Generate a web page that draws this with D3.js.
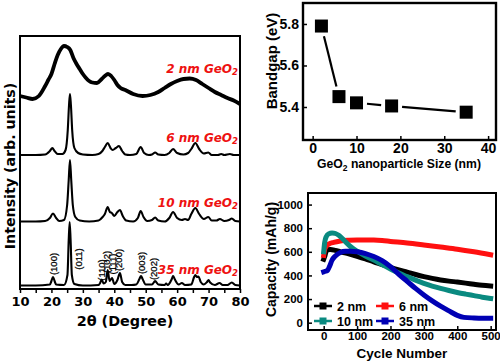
<!DOCTYPE html>
<html><head><meta charset="utf-8">
<script src="https://cdn.jsdelivr.net/npm/d3@7"></script>
<style>body{margin:0;background:#fff} svg{display:block}</style>
</head><body>
<svg id="c" width="500" height="362"></svg>
<script>
// ---------- DATA ----------
// Panel A: XRD patterns (2theta, intensity arb. units incl. offset)
const xrdTickValues = [10,15,20,25,30,35,40,45,50,55,60,65,70,75,80];
const xrd2nm = [[10,193],[12,191.5],[14,190],[16,193],[18,203],[19,209],[20,215],[21,225],[22,234],[23,240],[24,243],[25,242],[26,239],[27,231],[28,225],[29,220],[30,215],[31,211],[32,208],[33,206.5],[34.5,206],[36,210],[37,213],[38,215],[39,213],[40,209],[41,204],[42,201],[43.5,199],[46,195],[49,193],[51.5,194],[54,197],[56,201],[58,205],[60,208],[62,210],[64,210.5],[66,209],[68,205],[70,201],[72,197],[74,194],[76,191],[78,188.5],[80,185]];
const xrd6nm = [[10,134],[15,134],[18,134.5],[19.5,138],[20.3,141],[21,138],[22,135],[23.5,135],[24.5,139],[25.2,159],[25.6,184],[25.9,195],[26.2,184],[26.6,159],[27.3,141],[28.5,136],[30,134.5],[33,134],[35,135],[36.2,138],[37,142],[37.9,146],[38.8,141],[39.5,139],[40.5,141],[41.5,143],[42.5,138],[43.5,134.5],[45,134],[47,135],[48.4,142],[49.5,136],[51,134],[52,134.5],[53,136.5],[54,134.5],[56,134],[57.5,136],[58.7,140],[60,136],[62,134.5],[63.5,136],[64.5,140],[65.8,146],[67,140],[68.5,135.5],[69.9,136.5],[71,134],[73,134],[74,135],[75,134],[76.8,135],[78,134],[80,134]];
const xrd10nm = [[10,67.5],[15,67.5],[18,68],[19.5,71],[20.5,75.5],[21.5,71],[22.5,68],[24,69],[25,84],[25.5,109],[25.9,129],[26.3,109],[26.8,84],[27.6,72],[29,68.5],[32,67.5],[35,68.5],[36.3,72],[37,75],[37.9,82],[38.6,77],[39.2,76],[40,73],[41,77],[41.8,79],[42.7,73],[43.8,68.5],[46,67.5],[47.5,71],[48.4,78],[49.3,72],[50.5,68],[52,69],[53,71.5],[54,68.5],[56,67.5],[57.5,71],[58.7,77],[60,71],[61.5,69],[62.5,70],[63.5,69],[64.5,75],[65.8,81],[67,75],[68.5,70],[69.9,72],[71,68.5],[72.5,68.5],[73.6,70],[75,68],[76.5,69],[77.4,70.5],[78.5,68],[80,67.5]];
const xrd35nm = [[10,3.5],[15,3.5],[19.5,4.5],[20,8],[20.5,12],[21,8],[21.5,4.5],[24,4],[25.1,14],[25.5,49],[25.8,67],[26.1,49],[26.5,14],[27.3,5],[30,3.5],[35,4],[35.5,6],[36,9.5],[36.6,5.5],[37.3,7],[37.9,19],[38.5,8],[39.3,11],[40,5],[41,9],[41.8,16],[42.5,7],[43.5,4],[45.5,4],[47,4.5],[48,10],[48.5,13],[49,10],[50,4.5],[52,4.5],[53,8],[54,4.5],[56,4],[56.5,5.5],[57,4],[58.3,10],[58.7,13],[59.2,10],[60.5,4.5],[61.5,6],[62.5,4],[64.5,4.5],[65.4,12],[65.8,14],[66.3,12],[66.8,12.5],[67.5,7],[68.5,4.5],[69.5,7],[70,9],[70.5,6.5],[72,4],[73.5,6],[74.5,4],[76,4],[77.4,6.5],[78.5,4],[80,3.5]];
const sampleNames = ["2 nm GeO", "6 nm GeO", "10 nm GeO", "35 nm GeO"];
const sampleLabelLevels = [216, 147, 82, 15];
const peakLabels = ["(100)","(011)","(110)","(102)","(111)","(200)","(003)","(202)"];
const peakPositions = [20.8, 28.5, 35.8, 37.4, 39.3, 41.2, 48.5, 52.6];
const peakLabelLevels = [25, 30, 19, 27, 25, 29, 26, 20];

// Panel B: bandgap vs size
const sizes = [2, 6, 10, 18, 35];
const bandgap = [5.79, 5.45, 5.42, 5.405, 5.375];
const bgXTicks = [0, 10, 20, 30, 40];
const bgYTicks = [5.4, 5.6, 5.8];

// Panel C: capacity vs cycle
const capXTicks = [0, 100, 200, 300, 400, 500];
const capYTicks = [0, 200, 400, 600, 800, 1000];
const cap2nm = [[0,537],[3,560],[7,600],[12,618],[20,620],[35,612],[50,600],[75,582],[100,562],[125,540],[150,515],[175,492],[200,468],[225,447],[250,428],[275,408],[300,390],[325,375],[350,362],[375,352],[400,344],[425,335],[450,325],[475,316],[500,310]];
const cap6nm = [[0,570],[3,620],[8,650],[15,665],[30,680],[50,692],[75,698],[100,700],[125,700],[150,699],[175,695],[200,688],[250,675],[300,658],[350,640],[400,622],[450,600],[500,575]];
const cap10nm = [[0,600],[3,680],[8,730],[15,752],[25,760],[35,755],[45,740],[55,715],[65,685],[80,645],[100,605],[125,565],[150,530],[175,492],[200,455],[225,420],[250,390],[275,360],[300,333],[325,310],[350,290],[375,272],[400,256],[425,242],[450,229],[475,216],[500,205]];
const cap35nm = [[0,430],[5,435],[12,445],[18,480],[25,530],[35,565],[50,595],[65,605],[80,605],[100,600],[125,585],[150,560],[175,525],[200,475],[225,410],[250,350],[275,290],[300,235],[325,185],[350,140],[375,100],[400,62],[420,45],[450,40],[475,38],[500,38]];
const capNames = ["2 nm", "6 nm", "10 nm", "35 nm"];
const capColors = ["#000000", "#ff1010", "#0a8a80", "#0000b4"];

// ---------- DRAW ----------
const svg = d3.select("#c");
const DJ = "'DejaVu Sans', sans-serif";
const AR = "'Liberation Sans', Arial, sans-serif";

// ===== Panel A =====
const A = {x0:20, x1:240, y0:36, y1:289};
const xA = d3.scaleLinear().domain([10,80]).range([A.x0,A.x1]);
const yA = d3.scaleLinear().domain([0,253]).range([A.y1,A.y0]);
const lineA = d3.line().x(d=>xA(d[0])).y(d=>yA(d[1])).curve(d3.curveMonotoneX);
const gA = svg.append("g");
[[xrd2nm,3.8],[xrd6nm,2.1],[xrd10nm,2.1],[xrd35nm,2.1]].forEach(([d,w])=>{
  gA.append("path").datum(d).attr("d",lineA).attr("fill","none")
    .attr("stroke","#000").attr("stroke-width",w).attr("stroke-linejoin","round");
});
gA.append("rect").attr("x",A.x0).attr("y",A.y0).attr("width",A.x1-A.x0).attr("height",A.y1-A.y0)
  .attr("fill","none").attr("stroke","#000").attr("stroke-width",2);
const axA = gA.append("g").attr("transform",`translate(0,${A.y1})`)
  .call(d3.axisBottom(xA).tickValues(xrdTickValues).tickSize(4).tickSizeOuter(0).tickPadding(4)
    .tickFormat(d=> d%10===0 ? d : ""));
axA.select(".domain").remove();
axA.selectAll("line").attr("stroke-width",1.5);
axA.selectAll("text").attr("font-family",DJ).attr("font-weight","bold").attr("font-size",13).attr("fill","#000");
gA.append("text").attr("x",125).attr("y",326).attr("text-anchor","middle")
  .attr("font-family",DJ).attr("font-weight","bold").attr("font-size",14.4).text("2θ (Degree)");
gA.append("text").attr("transform","translate(15,166) rotate(-90)").attr("text-anchor","middle")
  .attr("font-family",DJ).attr("font-weight","bold").attr("font-size",14.2).text("Intensity (arb. units)");
// sample labels
sampleNames.forEach((n,i)=>{
  const t = gA.append("text").attr("x",238).attr("y",yA(sampleLabelLevels[i])).attr("text-anchor","end")
    .attr("font-family",DJ).attr("font-weight","bold").attr("font-style","italic").attr("font-size",12)
    .attr("fill","#ee1111");
  t.append("tspan").text(n);
  t.append("tspan").attr("font-size",8.5).attr("dy",1.5).text("2");
});
// peak labels
peakLabels.forEach((p,i)=>{
  gA.append("text").attr("transform",`translate(${xA(peakPositions[i])},${yA(peakLabelLevels[i])}) rotate(-90)`)
    .attr("text-anchor","middle").attr("dominant-baseline","central")
    .attr("font-family",AR).attr("font-size",9.5).attr("fill","#000").attr("stroke","#000").attr("stroke-width",0.25)
    .text(p);
});

// ===== Panel B =====
const B = {x0:303, x1:496, y0:3, y1:140};
const xB = d3.scaleLinear().domain([-2.2,41.8]).range([B.x0,B.x1]);
const yB = d3.scaleLinear().domain([5.241,5.901]).range([B.y1,B.y0]);
const gB = svg.append("g");
const pts = sizes.map((s,i)=>[xB(s), yB(bandgap[i])]);
const gap = 10.5;
for (let i=0;i<pts.length-1;i++){
  const [ax,ay]=pts[i], [bx,by]=pts[i+1];
  const dx=bx-ax, dy=by-ay, L=Math.hypot(dx,dy);
  if (L > 2*gap+2){
    const ux=dx/L, uy=dy/L;
    gB.append("line").attr("x1",ax+ux*gap).attr("y1",ay+uy*gap).attr("x2",bx-ux*gap).attr("y2",by-uy*gap)
      .attr("stroke","#000").attr("stroke-width",2.2);
  }
}
gB.selectAll("rect.m").data(sizes).join("rect").attr("class","m")
  .attr("x",(d)=>xB(d)-6.5).attr("y",(d,i)=>yB(bandgap[i])-6.5).attr("width",13).attr("height",13).attr("fill","#000");
gB.append("rect").attr("x",B.x0).attr("y",B.y0).attr("width",B.x1-B.x0).attr("height",B.y1-B.y0)
  .attr("fill","none").attr("stroke","#000").attr("stroke-width",2.4);
const axBx = gB.append("g").attr("transform",`translate(0,${B.y1})`)
  .call(d3.axisBottom(xB).tickValues(bgXTicks).tickSizeInner(-4).tickSizeOuter(0).tickPadding(3));
const axBy = gB.append("g").attr("transform",`translate(${B.x0},0)`)
  .call(d3.axisLeft(yB).tickValues(bgYTicks).tickFormat(d3.format(".1f")).tickSizeInner(-4).tickSizeOuter(0).tickPadding(4));
[axBx,axBy].forEach(a=>{a.select(".domain").remove(); a.selectAll("line").attr("stroke-width",1.5);
  a.selectAll("text").attr("font-family",AR).attr("font-weight","bold").attr("font-size",14).attr("fill","#000");});
const xt = gB.append("text").attr("x",399).attr("y",168).attr("text-anchor","middle")
  .attr("font-family",AR).attr("font-weight","bold").attr("font-size",12.2);
xt.append("tspan").text("GeO");
xt.append("tspan").attr("font-size",8.5).attr("dy",3).text("2");
xt.append("tspan").attr("dy",-3).text(" nanoparticle Size (nm)");
gB.append("text").attr("transform","translate(277,61) rotate(-90)").attr("text-anchor","middle")
  .attr("font-family",AR).attr("font-weight","bold").attr("font-size",15).text("Bandgap (eV)");

// ===== Panel C =====
const C = {x0:308, x1:496, y0:193, y1:330};
const xC = d3.scaleLinear().domain([-47,516]).range([C.x0,C.x1]);
const yC = d3.scaleLinear().domain([-62,1098]).range([C.y1,C.y0]);
const lineC = d3.line().x(d=>xC(d[0])).y(d=>yC(d[1])).curve(d3.curveMonotoneX);
const gC = svg.append("g");
[cap2nm, cap6nm, cap10nm, cap35nm].forEach((d,i)=>{
  gC.append("path").datum(d).attr("d",lineC).attr("fill","none").attr("stroke",capColors[i])
    .attr("stroke-width",5).attr("stroke-linejoin","round").attr("stroke-linecap","square");
});
gC.append("rect").attr("x",C.x0).attr("y",C.y0).attr("width",C.x1-C.x0).attr("height",C.y1-C.y0)
  .attr("fill","none").attr("stroke","#000").attr("stroke-width",2);
const axCx = gC.append("g").attr("transform",`translate(0,${C.y1})`)
  .call(d3.axisBottom(xC).tickValues(capXTicks).tickFormat(d3.format("d")).tickSizeInner(-4).tickSizeOuter(0).tickPadding(2));
const axCy = gC.append("g").attr("transform",`translate(${C.x0},0)`)
  .call(d3.axisLeft(yC).tickValues(capYTicks).tickFormat(d3.format("d")).tickSizeInner(-4).tickSizeOuter(0).tickPadding(5));
[axCx,axCy].forEach(a=>{a.select(".domain").remove(); a.selectAll("line").attr("stroke-width",1.5);
  a.selectAll("text").attr("font-family",AR).attr("font-weight","bold").attr("font-size",11.5).attr("fill","#000");});
gC.append("text").attr("x",402).attr("y",358).attr("text-anchor","middle")
  .attr("font-family",AR).attr("font-weight","bold").attr("font-size",13.5).text("Cycle Number");
gC.append("text").attr("transform","translate(276,259.5) rotate(-90)").attr("text-anchor","middle")
  .attr("font-family",AR).attr("font-weight","bold").attr("font-size",14).text("Capacity (mAh/g)");
// legend
const legPos = [[314,306],[376,306],[314,321],[376,321]];
capNames.forEach((n,i)=>{
  const [lx,ly]=legPos[i];
  gC.append("line").attr("x1",lx).attr("x2",lx+18).attr("y1",ly).attr("y2",ly)
    .attr("stroke",capColors[i]).attr("stroke-width",2.5);
  gC.append("rect").attr("x",lx+9-3.5).attr("y",ly-3.5).attr("width",7).attr("height",7).attr("fill",capColors[i]);
  gC.append("text").attr("x",lx+23).attr("y",ly+4.5).attr("font-family",AR).attr("font-weight","bold")
    .attr("font-size",12.5).attr("fill","#000").text(n);
});
</script>
</body></html>
